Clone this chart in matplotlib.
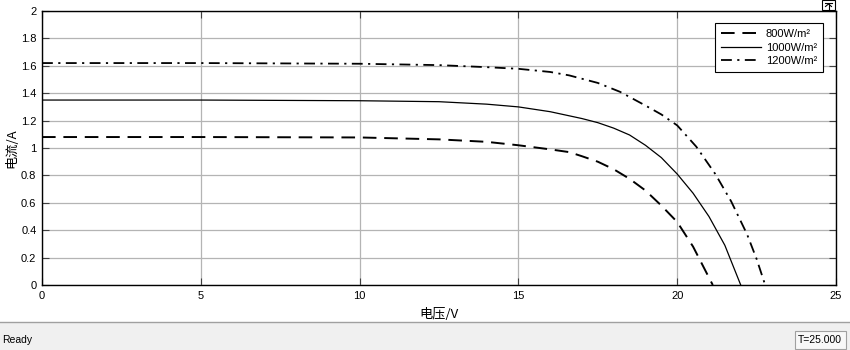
import matplotlib
matplotlib.use("Agg")
import matplotlib.pyplot as plt
from matplotlib.patches import Rectangle
from matplotlib.lines import Line2D

plt.rcParams['font.family'] = ['Liberation Sans', 'Noto Sans CJK SC', 'DejaVu Sans']

# I-V curves (voltage V, current A)
v_800 = [0, 5, 10, 12.5, 14, 15, 16, 16.6, 17, 17.5, 18, 18.5, 19, 19.5, 20, 20.5, 21.12]
i_800 = [1.08, 1.08, 1.077, 1.063, 1.045, 1.02, 0.99, 0.97, 0.94, 0.90, 0.845, 0.775, 0.69, 0.58, 0.46, 0.28, 0.0]

v_1000 = [0, 5, 10, 12.5, 14, 15, 16, 17, 17.5, 18, 18.5, 19, 19.5, 20, 20.5, 21, 21.5, 22.0]
i_1000 = [1.35, 1.35, 1.345, 1.338, 1.32, 1.30, 1.265, 1.215, 1.185, 1.145, 1.095, 1.02, 0.93, 0.81, 0.67, 0.50, 0.29, 0.0]

v_1200 = [0, 5, 10, 12.5, 14, 15, 16, 16.6, 17.5, 18.2, 19, 19.5, 20, 20.6, 21.2, 21.7, 22.2, 22.5, 22.77]
i_1200 = [1.62, 1.62, 1.615, 1.605, 1.59, 1.578, 1.555, 1.53, 1.475, 1.41, 1.31, 1.245, 1.165, 1.01, 0.81, 0.61, 0.37, 0.19, 0.0]

labels = ['800W/m²', '1000W/m²', '1200W/m²']
x_ticks = [0, 5, 10, 15, 20, 25]
y_ticks = [0, 0.2, 0.4, 0.6, 0.8, 1, 1.2, 1.4, 1.6, 1.8, 2]

fig = plt.figure(figsize=(8.5, 3.5), dpi=100)
ax = fig.add_axes([42 / 850, 1 - 285 / 350, 794 / 850, 274 / 350])

ax.plot(v_800, i_800, color='black', lw=1.4, dashes=(7, 4), label=labels[0])
ax.plot(v_1000, i_1000, color='black', lw=0.9, label=labels[1])
ax.plot(v_1200, i_1200, color='black', lw=1.3, dashes=(6, 3, 1.2, 3), label=labels[2])

ax.set_xlim(0, 25)
ax.set_ylim(0, 2)
ax.set_xticks(x_ticks)
ax.set_yticks(y_ticks)
ax.set_yticklabels(['0', '0.2', '0.4', '0.6', '0.8', '1', '1.2', '1.4', '1.6', '1.8', '2'])
ax.grid(True, color='#b4b4b4', lw=0.9)
ax.set_axisbelow(True)
ax.tick_params(direction='in', top=True, right=True, length=5, width=0.8,
               labelsize=8, pad=4, color='#404040')
for s in ax.spines.values():
    s.set_linewidth(1.0)
    s.set_color('black')

ax.set_xlabel('电压/V', fontsize=9.5, labelpad=5, family=['Noto Sans CJK SC', 'DejaVu Sans'])
ax.set_ylabel('电流/A', fontsize=9.5, labelpad=2, family=['Noto Sans CJK SC', 'DejaVu Sans'])

leg = ax.legend(loc='upper right', bbox_to_anchor=(0.9836, 0.956), borderaxespad=0,
                fancybox=False, edgecolor='black', framealpha=1, fontsize=8,
                handlelength=3.6, handletextpad=0.4, labelspacing=0.3, borderpad=0.55)
leg.get_frame().set_linewidth(0.8)

# status bar
fig.patches.append(Rectangle((0, 0), 1, 28 / 350, transform=fig.transFigure,
                             facecolor='#f0f0f0', edgecolor='none', zorder=0))
fig.lines.append(Line2D([0, 1], [28 / 350, 28 / 350], transform=fig.transFigure,
                        color='#a0a0a0', lw=1))
fig.text(2 / 850, 10 / 350, 'Ready', fontsize=7.5, va='center', ha='left')
fig.patches.append(Rectangle((795 / 850, 1 / 350), 51 / 850, 18 / 350, transform=fig.transFigure,
                             facecolor='#f8f8f8', edgecolor='#a0a0a0', lw=0.8))
fig.text(820 / 850, 10 / 350, 'T=25.000', fontsize=7.5, va='center', ha='center')

# small pin icon, top right
fig.patches.append(Rectangle((822 / 850, 1 - 10 / 350), 13 / 850, 10 / 350, transform=fig.transFigure,
                             facecolor='white', edgecolor='black', lw=0.8))
fig.lines.append(Line2D([825 / 850, 832 / 850], [1 - 2.5 / 350, 1 - 2.5 / 350],
                        transform=fig.transFigure, color='black', lw=0.8))
fig.lines.append(Line2D([828.5 / 850, 828.5 / 850], [1 - 4 / 350, 1 - 9 / 350],
                        transform=fig.transFigure, color='black', lw=0.8))
fig.lines.append(Line2D([825.5 / 850, 828.5 / 850, 831.5 / 850], [1 - 6.5 / 350, 1 - 4 / 350, 1 - 6.5 / 350],
                        transform=fig.transFigure, color='black', lw=0.8))

fig.savefig('out.png', dpi=100)
